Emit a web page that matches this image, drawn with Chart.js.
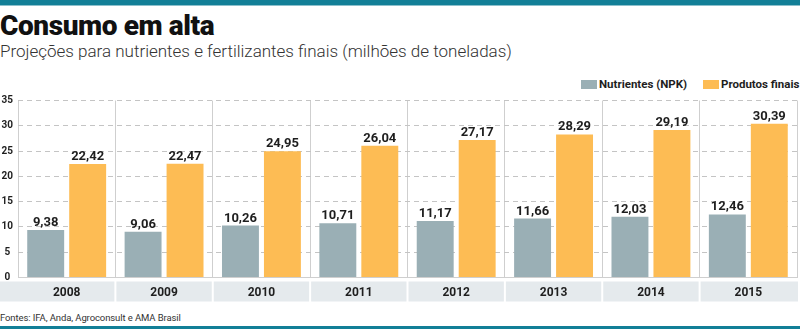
<!DOCTYPE html>
<html>
<head>
<meta charset="utf-8">
<script src="https://cdn.jsdelivr.net/npm/chart.js@4/dist/chart.umd.min.js"></script>
<style>
  html, body { margin: 0; padding: 0; background: #fff; }
  #wrap { position: relative; width: 800px; height: 329px; overflow: hidden; font-family: Roboto, "Liberation Sans", sans-serif; }
  .topbar { position: absolute; left: 0; top: 0; width: 800px; height: 5px; background: #127f97; }
  .topline { position: absolute; left: 0; top: 5px; width: 800px; height: 1px; background: #8cc0cc; }
  .botbar { position: absolute; left: 0; top: 326px; width: 800px; height: 3px; background: #127f97; }
  h1 { position: absolute; left: 0; top: 9px; margin: 0; font: 900 28px Roboto, sans-serif; color: #111; letter-spacing: -0.4px; white-space: nowrap; }
  .sub { position: absolute; left: 0; top: 41px; font: 300 17px Roboto, sans-serif; color: #333; white-space: nowrap; }
  .src { position: absolute; left: 0; top: 312px; font: 400 9.5px Roboto, sans-serif; color: #333; white-space: nowrap; letter-spacing: -0.1px; }
  .lg { position: absolute; top: 77px; height: 14px; display: flex; align-items: center; font: 700 11.5px Roboto, sans-serif; color: #1e1e1e; white-space: nowrap; }
  .lg i { display: inline-block; width: 16px; height: 9px; margin-right: 2px; }
  #box { position: absolute; left: 0; top: 66px; width: 800px; height: 245px; }
</style>
</head>
<body>
<div id="wrap">
  <div class="topbar"></div>
  <div class="topline"></div>
  <h1>Consumo em alta</h1>
  <div class="sub">Projeções para nutrientes e fertilizantes finais (milhões de toneladas)</div>
  <div id="legend"></div>
  <div id="box"><canvas id="c"></canvas></div>
  <div class="src">Fontes: IFA, Anda, Agroconsult e AMA Brasil</div>
  <div class="botbar"></div>
</div>
<script>
// Years and projected consumption (million tonnes)
const years = ['2008', '2009', '2010', '2011', '2012', '2013', '2014', '2015'];
const nutrientes = [9.38, 9.06, 10.26, 10.71, 11.17, 11.66, 12.03, 12.46];
const produtosFinais = [22.42, 22.47, 24.95, 26.04, 27.17, 28.29, 29.19, 30.39];
const yTicks = [0, 5, 10, 15, 20, 25, 30, 35];

const GREY = '#9aafb5';
const ORANGE = '#fdbc54';
const FONT = 'Roboto, "Liberation Sans", sans-serif';

// Light grey cells behind each year label
const yearCells = {
  id: 'yearCells',
  beforeDraw(chart) {
    const x = chart.scales.x;
    const { ctx } = chart;
    const n = years.length;
    const w = (x.right - x.left) / n;
    const top = x.top + 4, h = 20;
    ctx.save();
    ctx.fillStyle = '#e5eaed';
    for (let i = 0; i < n; i++) {
      const l = i === 0 ? 0 : x.left + i * w + 1;
      const r = i === n - 1 ? x.right + 1 : x.left + (i + 1) * w - 1;
      ctx.fillRect(l, top, r - l, h);
    }
    ctx.restore();
  }
};

// Value labels above each bar
const valueLabels = {
  id: 'valueLabels',
  afterDatasetsDraw(chart) {
    const { ctx } = chart;
    ctx.save();
    ctx.font = 'bold 13px ' + FONT;
    ctx.fillStyle = '#1e1e1e';
    ctx.textAlign = 'center';
    ctx.textBaseline = 'alphabetic';
    chart.data.datasets.forEach((ds, di) => {
      chart.getDatasetMeta(di).data.forEach((bar, i) => {
        ctx.fillText(ds.data[i].toFixed(2).replace('.', ','), bar.x, bar.y - 4);
      });
    });
    ctx.restore();
  }
};

const chart = new Chart(document.getElementById('c'), {
  type: 'bar',
  data: {
    labels: years,
    datasets: [
      { label: 'Nutrientes (NPK)', data: nutrientes, backgroundColor: GREY },
      { label: 'Produtos finais', data: produtosFinais, backgroundColor: ORANGE }
    ]
  },
  plugins: [yearCells, valueLabels],
  options: {
    responsive: true,
    maintainAspectRatio: false,
    animation: false,
    events: [],
    categoryPercentage: 0.862,
    barPercentage: 0.88,
    layout: { padding: { left: 0, right: 3, top: 34.5, bottom: 0 } },
    plugins: {
      legend: { display: false },
      tooltip: { enabled: false }
    },
    scales: {
      x: {
        grid: { color: '#cfcfcf', drawTicks: false, offset: true },
        border: { display: true, color: '#cfcfcf' },
        ticks: { color: '#1e1e1e', padding: 8, font: { family: FONT, size: 12, weight: 'bold' } },
        afterFit(scale) { scale.height = 33.5; }
      },
      y: {
        min: 0,
        max: 35,
        afterBuildTicks(scale) { scale.ticks = yTicks.map(v => ({ value: v })); },
        grid: { color: '#c4c4c4', drawTicks: false },
        border: { display: false, dash: [5, 4] },
        ticks: { color: '#1e1e1e', padding: 5, crossAlign: 'center', font: { family: FONT, size: 10, weight: 'bold' } },
        afterFit(scale) { scale.width = 18; }
      }
    }
  }
});

// Legend built from the chart's own datasets
const legendPos = [581, 703];
const legendEl = document.getElementById('legend');
chart.data.datasets.forEach((ds, i) => {
  const item = document.createElement('div');
  item.className = 'lg';
  item.style.left = legendPos[i] + 'px';
  const sw = document.createElement('i');
  sw.style.background = ds.backgroundColor;
  item.appendChild(sw);
  item.appendChild(document.createTextNode(ds.label));
  legendEl.appendChild(item);
});
</script>
</body>
</html>
